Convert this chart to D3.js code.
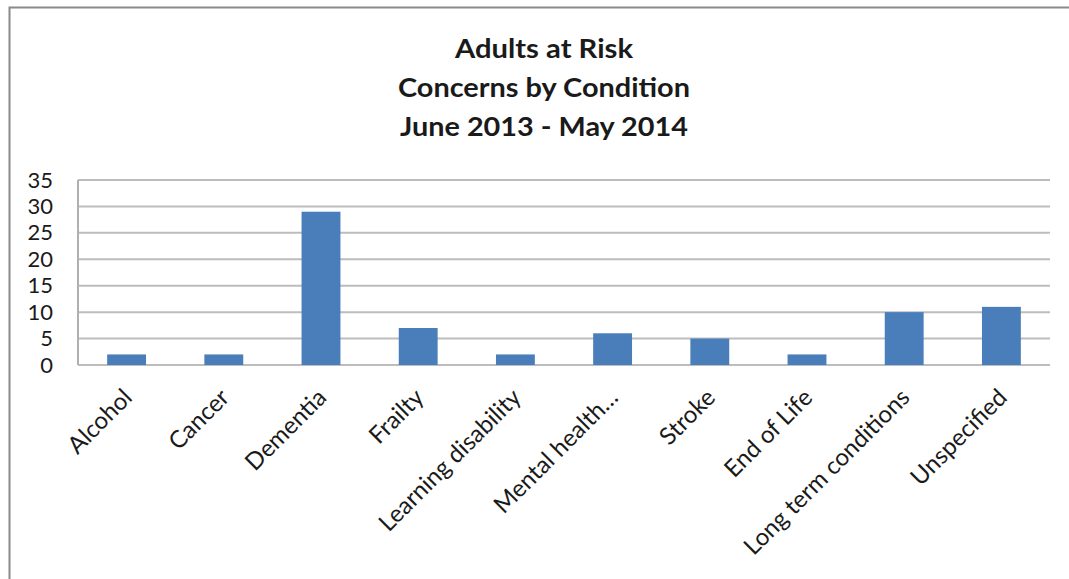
<!DOCTYPE html>
<html>
<head>
<meta charset="utf-8">
<script src="https://cdn.jsdelivr.net/npm/d3@7"></script>
<style>
  html, body { margin: 0; padding: 0; background: #fff; }
  svg { display: block; }
  text { font-family: Lato, "Open Sans", sans-serif; fill: #1a1a1a; }
</style>
</head>
<body>
<svg id="chart" width="1069" height="579"></svg>
<script>
// Concerns raised per condition, June 2013 - May 2014
const categories = ["Alcohol", "Cancer", "Dementia", "Frailty", "Learning disability",
  "Mental health\u2026", "Stroke", "End of Life", "Long term conditions", "Unspecified"];
const concerns = [2, 2, 29, 7, 2, 6, 5, 2, 10, 11];
const yTicks = [0, 5, 10, 15, 20, 25, 30, 35];
const titleLines = ["Adults at Risk", "Concerns by Condition", "June 2013 - May 2014"];

const svg = d3.select("#chart");
const W = 1069, H = 579;
const plot = { left: 78, right: 1050, top: 180, bottom: 365 };

// chart frame
svg.append("rect")
  .attr("x", 9.5).attr("y", 7.5)
  .attr("width", W + 20).attr("height", H + 20)
  .attr("fill", "none").attr("stroke", "#8a8a8a").attr("stroke-width", 2);

// title, three centred lines
const titleWidths = [178, 292, 288];
const titleBaselines = [58, 97, 136];
titleLines.forEach((t, i) => {
  svg.append("text")
    .attr("x", 544).attr("y", titleBaselines[i])
    .attr("text-anchor", "middle")
    .attr("font-size", 26).attr("font-weight", "bold")
    .attr("textLength", titleWidths[i])
    .attr("lengthAdjust", "spacingAndGlyphs")
    .text(t);
});

const x = d3.scaleBand()
  .domain(categories)
  .range([plot.left, plot.right])
  .paddingInner(0.6).paddingOuter(0.3);

const y = d3.scaleLinear()
  .domain([0, 35])
  .range([plot.bottom, plot.top]);

// horizontal gridlines
svg.append("g")
  .selectAll("line")
  .data(yTicks)
  .join("line")
  .attr("x1", plot.left).attr("x2", plot.right)
  .attr("y1", d => y(d)).attr("y2", d => y(d))
  .attr("stroke", "#bdbdbd").attr("stroke-width", 2);

// value axis line
svg.append("line")
  .attr("x1", plot.left).attr("x2", plot.left)
  .attr("y1", plot.top).attr("y2", plot.bottom)
  .attr("stroke", "#b0b0b0").attr("stroke-width", 2);

// y axis labels
const yAxis = d3.axisLeft(y).tickValues(yTicks).tickSize(0).tickPadding(25);
const gy = svg.append("g").attr("transform", `translate(${plot.left},0)`).call(yAxis);
gy.select(".domain").remove();
gy.selectAll("text")
  .attr("font-size", 22)
  .attr("font-family", "Lato, \"Open Sans\", sans-serif")
  .attr("fill", "#1a1a1a");

// bars
svg.append("g")
  .selectAll("rect")
  .data(categories.map((c, i) => ({ c, v: concerns[i] })))
  .join("rect")
  .attr("x", d => x(d.c))
  .attr("width", x.bandwidth())
  .attr("y", d => y(d.v))
  .attr("height", d => y(0) - y(d.v))
  .attr("fill", "#4a7ebb");

// category labels, rotated 45 degrees
svg.append("g")
  .selectAll("text")
  .data(categories)
  .join("text")
  .attr("transform", d => `translate(${x(d) + x.bandwidth() / 2 + 7},${plot.bottom + 34}) rotate(-45)`)
  .attr("text-anchor", "end")
  .attr("font-size", 24)
  .text(d => d);
</script>
</body>
</html>
